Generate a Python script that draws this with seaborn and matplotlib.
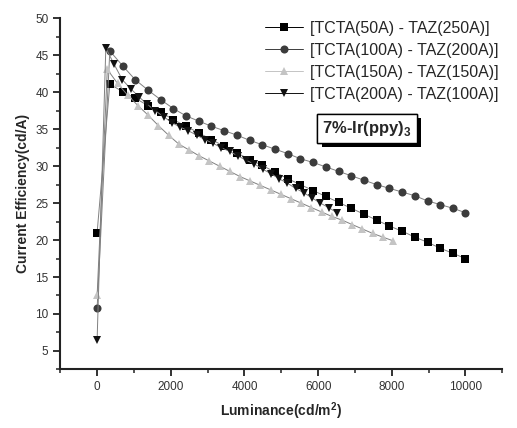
import pandas as pd
import seaborn as sns
import matplotlib.pyplot as plt
import matplotlib.patheffects as pe
from matplotlib.ticker import MultipleLocator

# device labels
devices = ['[TCTA(50A) - TAZ(250A)]',
           '[TCTA(100A) - TAZ(200A)]',
           '[TCTA(150A) - TAZ(150A)]',
           '[TCTA(200A) - TAZ(100A)]']

lum_50 = [0, 345, 690, 1035, 1380, 1725, 2070, 2415, 2760, 3105, 3450, 3795,
          4140, 4485, 4830, 5175, 5520, 5865, 6210, 6555, 6900, 7245, 7590,
          7935, 8280, 8625, 8970, 9315, 9660, 10000]
eff_50 = [21.0, 41.1, 40.1, 39.2, 38.2, 37.3, 36.3, 35.4, 34.5, 33.6, 32.7,
          31.8, 30.9, 30.1, 29.2, 28.3, 27.5, 26.7, 25.9, 25.1, 24.3, 23.5,
          22.7, 21.9, 21.2, 20.4, 19.7, 18.9, 18.2, 17.5]

lum_100 = [0, 345, 690, 1035, 1380, 1725, 2070, 2415, 2760, 3105, 3450, 3795,
           4140, 4485, 4830, 5175, 5520, 5865, 6210, 6555, 6900, 7245, 7590,
           7935, 8280, 8625, 8970, 9315, 9660, 10000]
eff_100 = [10.8, 45.6, 43.6, 41.7, 40.3, 39.0, 37.8, 36.8, 36.1, 35.4, 34.8,
           34.2, 33.5, 32.9, 32.3, 31.7, 31.0, 30.5, 29.9, 29.3, 28.7, 28.1,
           27.5, 27.0, 26.5, 26.0, 25.3, 24.8, 24.3, 23.7]

lum_150 = [0, 277, 554, 831, 1108, 1385, 1662, 1939, 2216, 2493, 2770, 3047,
           3324, 3601, 3878, 4155, 4432, 4709, 4986, 5263, 5540, 5817, 6094,
           6371, 6648, 6925, 7202, 7479, 7756, 8033]
eff_150 = [12.5, 43.1, 41.2, 39.6, 38.2, 36.9, 35.5, 34.2, 33.0, 32.2, 31.4,
           30.7, 30.0, 29.3, 28.6, 28.0, 27.4, 26.8, 26.2, 25.6, 25.0, 24.4,
           23.8, 23.2, 22.7, 22.1, 21.5, 20.9, 20.4, 19.9]

lum_200 = [0, 236, 460, 684, 908, 1132, 1356, 1580, 1804, 2028, 2252, 2476,
           2700, 2924, 3148, 3372, 3596, 3820, 4044, 4268, 4492, 4716, 4940,
           5164, 5388, 5612, 5836, 6060, 6284, 6508]
eff_200 = [6.5, 46.0, 43.8, 41.7, 40.5, 39.4, 38.4, 37.5, 36.7, 35.9, 35.3,
           34.8, 34.2, 33.6, 33.1, 32.5, 32.0, 31.4, 30.8, 30.3, 29.6, 29.0,
           28.3, 27.7, 27.0, 26.4, 25.7, 25.0, 24.4, 23.7]

frames = []
for dev, x, y in zip(devices, [lum_50, lum_100, lum_150, lum_200],
                     [eff_50, eff_100, eff_150, eff_200]):
    frames.append(pd.DataFrame({'lum': x, 'eff': y, 'device': dev}))
data = pd.concat(frames, ignore_index=True)

sns.set_style("ticks")
plt.rcParams['font.family'] = ['Liberation Sans', 'DejaVu Sans']
plt.rcParams['mathtext.fontset'] = 'custom'
plt.rcParams['mathtext.rm'] = 'Liberation Sans'
plt.rcParams['mathtext.bf'] = 'Liberation Sans:bold'

colors = ['#000000', '#3c3c3c', '#c4c4c4', '#111111']
markers = ['s', 'o', '^', 'v']

fig = plt.figure(figsize=(5.17, 4.28), dpi=100)
ax = fig.add_axes([0.1166, 0.137, 0.855, 0.82])

sns.lineplot(data=data, x='lum', y='eff', hue='device', style='device',
             hue_order=devices, style_order=devices,
             palette=colors, markers=markers, dashes=False,
             markersize=5.8, markeredgewidth=0, linewidth=0.7,
             sort=False, estimator=None, ax=ax)

# connecting lines are thin grey, markers keep their own shade
for line, c in zip(ax.lines[:4], colors):
    line.set_markerfacecolor(c)
    line.set_markeredgecolor(c)
    line.set_color('#808080')

ax.set_xlim(-1000, 11000)
ax.set_ylim(2.5, 50)
ax.xaxis.set_major_locator(MultipleLocator(2000))
ax.xaxis.set_minor_locator(MultipleLocator(1000))
ax.yaxis.set_major_locator(MultipleLocator(5))
ax.yaxis.set_minor_locator(MultipleLocator(2.5))
ax.tick_params(which='major', direction='out', length=5, width=1.3,
               labelsize=8.5, labelcolor='#333333', color='#222222')
ax.tick_params(which='minor', direction='out', length=3, width=1.1,
               color='#222222')
sns.despine(ax=ax)
for s in ['left', 'bottom']:
    ax.spines[s].set_linewidth(1.5)
    ax.spines[s].set_color('#222222')

ax.set_xlabel('Luminance(cd/m$^\\mathbf{2}$)', fontsize=10,
              fontweight='bold', labelpad=5)
ax.set_ylabel('Current Efficiency(cd/A)', fontsize=10, fontweight='bold',
              labelpad=4)

handles, labels = ax.get_legend_handles_labels()
ax.legend(handles, labels, loc='upper left',
          bbox_to_anchor=(265 / 517, 1 - 21 / 428),
          bbox_transform=fig.transFigure, frameon=False, fontsize=11.5,
          handlelength=2.4, handletextpad=0.4, labelspacing=0.43,
          borderaxespad=0, borderpad=0)

t = ax.text(0.593, 0.687, '7%-Ir(ppy)$_\\mathbf{3}$', transform=ax.transAxes,
            fontsize=12, fontweight='bold', ha='left', va='center',
            bbox=dict(boxstyle='square,pad=0.3', fc='white', ec='black',
                      lw=1.0))
t.get_bbox_patch().set_path_effects([
    pe.withSimplePatchShadow(offset=(3, -3), shadow_rgbFace='black',
                             alpha=1.0),
    pe.Normal()])

plt.savefig('out.png', dpi=100)
